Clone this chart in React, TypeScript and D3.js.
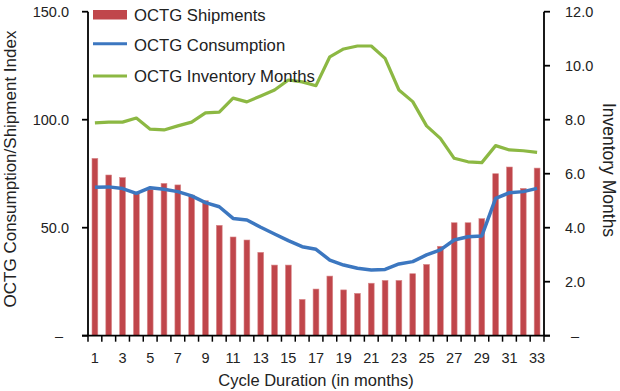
import React from 'react'
import * as d3 from 'd3'

const months = d3.range(1, 34)
const shipments = [82.1, 74.4, 73.2, 66.2, 67.8, 70.5, 69.8, 65.1, 62.5, 51.1, 45.7, 44.3, 38.6, 32.7, 32.7, 16.8, 21.6, 27.6, 21.2, 19.6, 24.3, 25.6, 25.6, 28.7, 33.0, 41.4, 52.3, 52.3, 54.2, 75.0, 78.1, 68.2, 77.6]
const consumption = [68.7, 68.9, 68.1, 65.9, 68.5, 67.8, 66.7, 64.7, 61.6, 59.7, 54.3, 53.6, 50.2, 47.1, 44.0, 41.2, 40.0, 35.0, 32.7, 31.2, 30.4, 30.7, 33.2, 34.3, 37.4, 39.7, 44.3, 45.8, 46.2, 63.6, 66.2, 66.7, 68.2]
const inventory = [7.88, 7.91, 7.91, 8.06, 7.65, 7.62, 7.77, 7.91, 8.25, 8.28, 8.8, 8.66, 8.88, 9.1, 9.47, 9.4, 9.26, 10.33, 10.62, 10.73, 10.73, 10.27, 9.1, 8.67, 7.77, 7.31, 6.57, 6.44, 6.41, 7.04, 6.88, 6.85, 6.79]
const leftTicks = [0, 50, 100, 150]
const rightTicks = [0, 2, 4, 6, 8, 10, 12]

const W = 620
const H = 391
const left = 88
const right = 544
const top = 11.7
const bottom = 335.7
const font = '"Liberation Sans", Arial, Helvetica, sans-serif'
const RED = '#c0464b'
const BLUE = '#3c77c0'
const GREEN = '#8cb843'

export default function App() {
  const x = d3.scaleBand<number>().domain(months).range([left, right]).paddingInner(0.58).paddingOuter(0.29)
  const xb = d3.scaleBand<number>().domain(months).range([left, right])
  const yL = d3.scaleLinear().domain([0, 150]).range([bottom, top])
  const yR = d3.scaleLinear().domain([0, 12]).range([bottom, top])
  const cx = (m: number) => (xb(m) as number) + xb.bandwidth() / 2

  const consLine = d3.line<number>().x((_, i) => cx(months[i])).y(d => yL(d))
  const invLine = d3.line<number>().x((_, i) => cx(months[i])).y(d => yR(d))

  const fmt = (v: number) => (v === 0 ? '–' : v.toFixed(1))

  return (
    <svg width={W} height={H} style={{ position: 'absolute', left: 0, top: 0 }} fontFamily={font}>
      <rect width={W} height={H} fill="#fff" />
      {shipments.map((v, i) => (
        <rect key={i} x={x(months[i])} y={yL(v)} width={x.bandwidth()} height={bottom - yL(v)}
          fill={RED} stroke="#d98a8c" strokeWidth={0.6} />
      ))}
      <path d={consLine(consumption) as string} fill="none" stroke={BLUE} strokeWidth={3.5} strokeLinejoin="round" />
      <path d={invLine(inventory) as string} fill="none" stroke={GREEN} strokeWidth={3.2} strokeLinejoin="round" />

      {/* axes */}
      <line x1={left} x2={left} y1={top} y2={bottom} stroke="#000" strokeWidth={1.8} />
      <line x1={right} x2={right} y1={top} y2={bottom} stroke="#000" strokeWidth={1.8} />
      <line x1={left - 6} x2={right + 6} y1={bottom} y2={bottom} stroke="#000" strokeWidth={1.8} />
      {leftTicks.map(t => (
        <g key={t}>
          <line x1={left - 6} x2={left} y1={yL(t)} y2={yL(t)} stroke="#000" strokeWidth={1.8} />
          <text x={t === 0 ? 63 : 69} y={yL(t)} dy="0.36em" textAnchor="end" fontSize={14.5} fill="#222">{fmt(t)}</text>
        </g>
      ))}
      {rightTicks.map(t => (
        <g key={t}>
          <line x1={right} x2={right + 6} y1={yR(t)} y2={yR(t)} stroke="#000" strokeWidth={1.8} />
          <text x={t === 0 ? 571 : 565} y={yR(t)} dy="0.36em" textAnchor="start" fontSize={14.5} fill="#222">{fmt(t)}</text>
        </g>
      ))}
      {months.map(m => (
        <line key={m} x1={xb(m)} x2={xb(m)} y1={bottom} y2={bottom + 6} stroke="#000" strokeWidth={1.5} />
      ))}
      <line x1={right} x2={right} y1={bottom} y2={bottom + 6} stroke="#000" strokeWidth={1.5} />
      {months.filter(m => m % 2 === 1).map(m => (
        <text key={m} x={cx(m)} y={363} textAnchor="middle" fontSize={14.5} fill="#222">{m}</text>
      ))}
      <text x={(left + right) / 2} y={386} textAnchor="middle" fontSize={16.5} fill="#222">Cycle Duration (in months)</text>
      <text transform={`translate(16,${169}) rotate(-90)`} textAnchor="middle" fontSize={17} fill="#222">OCTG Consumption/Shipment Index</text>
      <text transform={`translate(603,${170}) rotate(90)`} textAnchor="middle" fontSize={17.5} fill="#222">Inventory Months</text>

      {/* legend */}
      <rect x={93} y={10} width={34} height={9.5} fill={RED} />
      <line x1={93} x2={127} y1={43.7} y2={43.7} stroke={BLUE} strokeWidth={3} />
      <line x1={93} x2={127} y1={76} y2={76} stroke={GREEN} strokeWidth={3} />
      <text x={134} y={15} dy="0.36em" fontSize={16.7} fill="#222">OCTG Shipments</text>
      <text x={134} y={45} dy="0.36em" fontSize={16.7} fill="#222">OCTG Consumption</text>
      <text x={134} y={76} dy="0.36em" fontSize={16.7} fill="#222">OCTG Inventory Months</text>
    </svg>
  )
}
